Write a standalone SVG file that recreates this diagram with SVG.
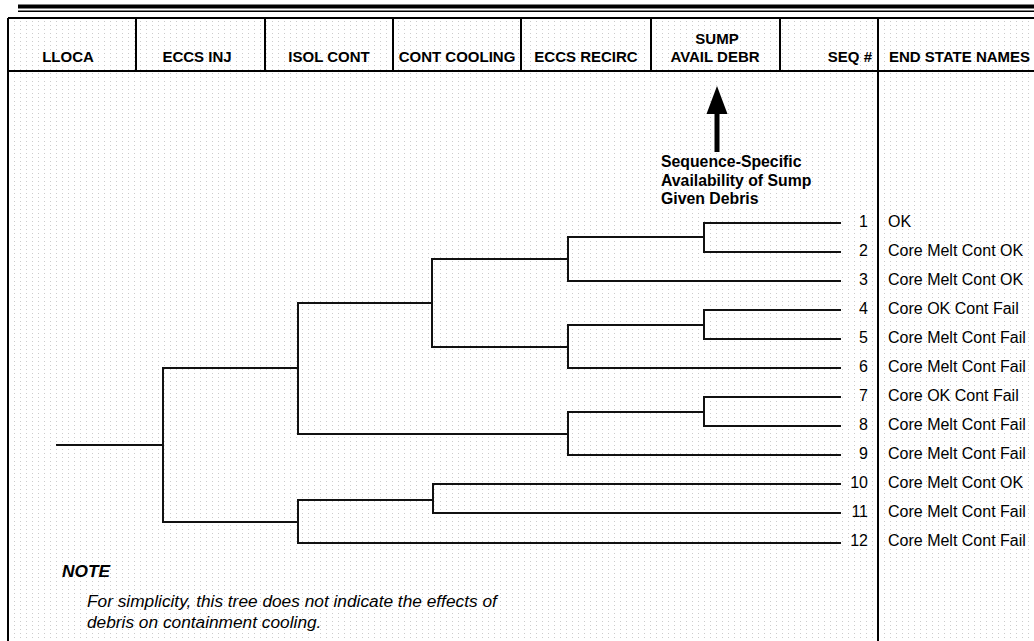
<svg xmlns="http://www.w3.org/2000/svg" width="1034" height="641" viewBox="0 0 1034 641">
<style>
.frame{stroke:#000;stroke-width:2;fill:none}
.tree{stroke:#111;stroke-width:2;fill:none;stroke-linecap:square}
.hdr{font-family:"Liberation Sans",Arial,sans-serif;font-weight:bold;font-size:15px;fill:#000}
.seq{font-family:"Liberation Sans",Arial,sans-serif;font-size:16px;fill:#000;text-anchor:end}
.es{font-family:"Liberation Sans",Arial,sans-serif;font-size:16px;fill:#000}
.ann{font-family:"Liberation Sans",Arial,sans-serif;font-weight:bold;font-size:15.8px;fill:#000}
.note{font-family:"Liberation Sans",Arial,sans-serif;font-style:italic;font-size:17.3px;fill:#000}
</style>
<defs>
<pattern id="dots" width="6" height="4" patternUnits="userSpaceOnUse">
<rect x="2" y="1" width="1" height="1" fill="#cccccc"/>
</pattern>
</defs>
<rect width="1034" height="641" fill="#fff"/>
<rect x="8" y="18" width="1026" height="623" fill="url(#dots)"/>
<g id="topbar">
<rect x="18" y="4.5" width="1016" height="4" fill="#000"/>
<rect x="18" y="10.5" width="1016" height="1.5" fill="#000"/>
</g>
<g id="frame" class="frame">
<path d="M8,18 H1034 M8,71 H1034 M8,18 V641"/>
<path d="M136,18 V71 M265,18 V71 M393,18 V71 M521,18 V71 M651,18 V71 M780,18 V71 M878,18 V641"/>
</g>
<g id="headers">
<text id="h-lloca" class="hdr" x="68" y="62" text-anchor="middle">LLOCA</text>
<text id="h-eccsinj" class="hdr" x="197" y="62" text-anchor="middle">ECCS INJ</text>
<text id="h-isol" class="hdr" x="329" y="62" text-anchor="middle">ISOL CONT</text>
<text id="h-contcool" class="hdr" x="457" y="62" text-anchor="middle">CONT COOLING</text>
<text id="h-recirc" class="hdr" x="586" y="62" text-anchor="middle">ECCS RECIRC</text>
<text id="h-sump" class="hdr" text-anchor="middle"><tspan x="717" y="44">SUMP</tspan><tspan x="715" y="62">AVAIL DEBR</tspan></text>
<text id="h-seq" class="hdr" x="872" y="62" text-anchor="end">SEQ #</text>
<text id="h-end" class="hdr" x="889" y="62">END STATE NAMES</text>
</g>
<g id="annotation">
<path d="M717,86 L706.5,114 H714.5 V152 H719.5 V114 H727.5 Z" fill="#000"/>
<text class="ann"><tspan x="661" y="167">Sequence-Specific</tspan><tspan x="661" y="185.5">Availability of Sump</tspan><tspan x="661" y="204">Given Debris</tspan></text>
</g>
<g id="connectors" class="tree">
<path d="M57,445 H163 M163,368 V522 M163,368 H298 M163,522 H298"/>
<path d="M298,303 V434 M298,303 H432 M298,434 H568"/>
<path d="M298,500 V543 M298,500 H433 M298,543 H840"/>
<path d="M432,259 V347 M432,259 H568 M432,347 H568"/>
<path d="M433,484 V513 M433,484 H840 M433,513 H840"/>
<path d="M568,237 V281 M568,237 H704 M568,281 H840"/>
<path d="M568,325 V368 M568,325 H704 M568,368 H840"/>
<path d="M568,412 V455 M568,412 H704 M568,455 H840"/>
<path d="M704,223 V252 M704,223 H840 M704,252 H840"/>
<path d="M704,310 V339 M704,310 H840 M704,339 H840"/>
<path d="M704,397 V426 M704,397 H840 M704,426 H840"/>
</g>
<g id="seq1"><text class="seq" x="868" y="227">1</text><text class="es" x="888" y="227">OK</text></g>
<g id="seq2"><text class="seq" x="868" y="256">2</text><text class="es" x="888" y="256">Core Melt Cont OK</text></g>
<g id="seq3"><text class="seq" x="868" y="285">3</text><text class="es" x="888" y="285">Core Melt Cont OK</text></g>
<g id="seq4"><text class="seq" x="868" y="314">4</text><text class="es" x="888" y="314">Core OK Cont Fail</text></g>
<g id="seq5"><text class="seq" x="868" y="343">5</text><text class="es" x="888" y="343">Core Melt Cont Fail</text></g>
<g id="seq6"><text class="seq" x="868" y="372">6</text><text class="es" x="888" y="372">Core Melt Cont Fail</text></g>
<g id="seq7"><text class="seq" x="868" y="401">7</text><text class="es" x="888" y="401">Core OK Cont Fail</text></g>
<g id="seq8"><text class="seq" x="868" y="430">8</text><text class="es" x="888" y="430">Core Melt Cont Fail</text></g>
<g id="seq9"><text class="seq" x="868" y="459">9</text><text class="es" x="888" y="459">Core Melt Cont Fail</text></g>
<g id="seq10"><text class="seq" x="868" y="488">10</text><text class="es" x="888" y="488">Core Melt Cont OK</text></g>
<g id="seq11"><text class="seq" x="868" y="517">11</text><text class="es" x="888" y="517">Core Melt Cont Fail</text></g>
<g id="seq12"><text class="seq" x="868" y="546">12</text><text class="es" x="888" y="546">Core Melt Cont Fail</text></g>
<g id="note">
<text class="note" x="62" y="577" font-weight="bold" font-size="16px">NOTE</text>
<text class="note"><tspan x="87" y="607">For simplicity, this tree does not indicate the effects of</tspan><tspan x="87" y="628">debris on containment cooling.</tspan></text>
</g>
</svg>
